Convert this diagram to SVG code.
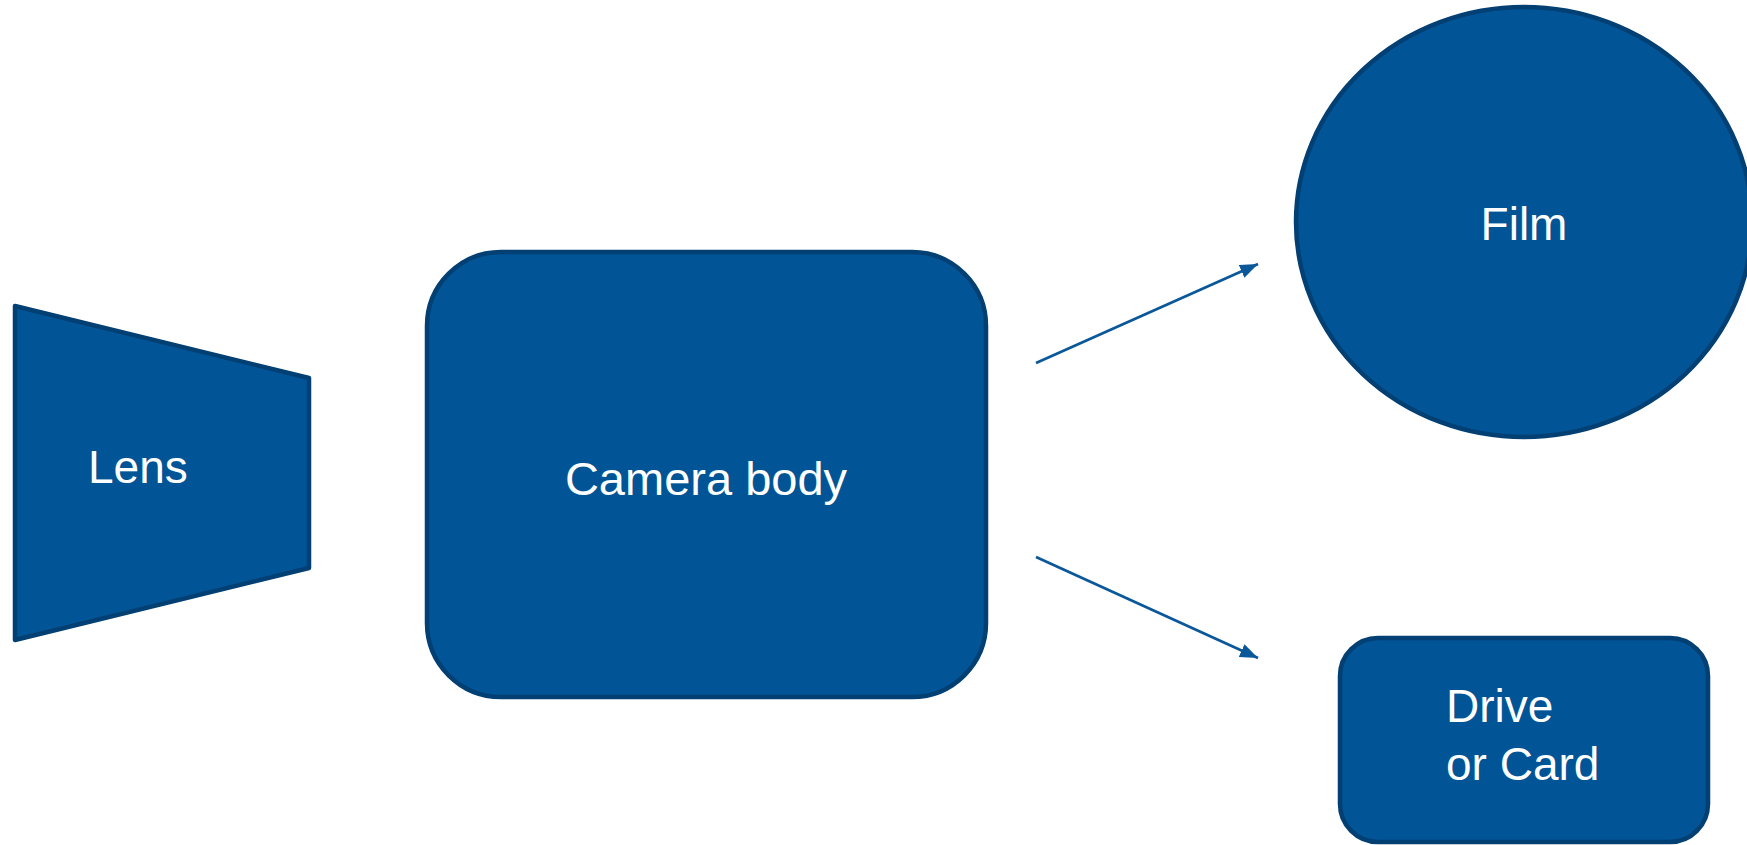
<svg xmlns="http://www.w3.org/2000/svg" width="1747" height="845" viewBox="0 0 1747 845">
<style>
.shape{fill:#015596;stroke:#023f73;stroke-width:4.5;stroke-linejoin:round}
.lbl{font-family:"Liberation Sans",Arial,sans-serif;font-size:46px;fill:#ffffff}
.conn{stroke:#0a579a;stroke-width:2.7;fill:none}
</style>
<defs>
<marker id="arr" markerUnits="userSpaceOnUse" markerWidth="20" markerHeight="16" refX="18" refY="7" orient="auto">
<path d="M0,0 L18,7 L0,14 Z" fill="#0a579a"/>
</marker>
</defs>
<rect width="1747" height="845" fill="#ffffff"/>
<g id="lens">
<polygon class="shape" points="15,306 309,378 309,568 15,640"/>
<text class="lbl" x="88" y="483">Lens</text>
</g>
<g id="camera-body">
<rect class="shape" x="427" y="252" width="559" height="445" rx="74" ry="74"/>
<text class="lbl" x="706" y="495" text-anchor="middle" style="font-size:47px">Camera body</text>
</g>
<g id="film">
<ellipse class="shape" cx="1524" cy="222" rx="228" ry="215"/>
<text class="lbl" x="1524" y="240" text-anchor="middle">Film</text>
</g>
<g id="drive">
<rect class="shape" x="1340" y="638" width="368" height="204" rx="38" ry="38"/>
<text class="lbl" x="1446" y="722">Drive</text>
<text class="lbl" x="1446" y="780">or Card</text>
</g>
<g id="connectors">
<line class="conn" x1="1036" y1="363" x2="1258" y2="264" marker-end="url(#arr)"/>
<line class="conn" x1="1036" y1="557" x2="1258" y2="658" marker-end="url(#arr)"/>
</g>
</svg>
